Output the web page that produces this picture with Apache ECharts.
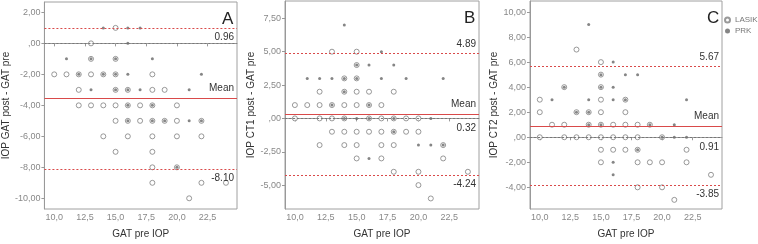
<!DOCTYPE html>
<html>
<head>
<meta charset="utf-8">
<script src="https://cdn.jsdelivr.net/npm/echarts@6/dist/echarts.min.js"></script>
<style>
  html, body { margin: 0; padding: 0; background: #fff; }
  #chart { width: 758px; height: 244px; }
</style>
</head>
<body>
<div id="chart"></div>
<script>
// x tick values shared by the three panels
const xTicks = [10, 12.5, 15, 17.5, 20, 22.5];

// panel A: IOP GAT post - GAT pre
const lasikA = [
  [15, 1], [13, 0], [13, -1], [15, -1],
  [10, -2], [11, -2], [12, -2], [13, -2], [14, -2], [15, -2], [18, -2],
  [12, -3], [15, -3], [16, -3], [18, -3], [19, -3],
  [12, -4], [13, -4], [14, -4], [15, -4], [16, -4], [17, -4], [18, -4], [20, -4],
  [15, -5], [16, -5], [17, -5], [18, -5], [19, -5], [20, -5], [22, -5],
  [14, -6], [16, -6], [18, -6], [20, -6], [22, -6],
  [15, -7], [18, -7], [18, -8], [20, -8],
  [18, -9], [22, -9], [24, -9], [21, -10]
];
const prkA = [
  [14, 1], [16, 1], [17, 1], [16, 0],
  [11, -1], [13, -1], [15, -1], [18, -1],
  [12, -2], [14, -2], [15, -2], [16, -2], [22, -2],
  [13, -3], [15, -3], [16, -3], [17, -3], [21, -3],
  [16, -4], [18, -4],
  [16, -5], [18, -5], [19, -5], [21, -5], [22, -5],
  [20, -8]
];
const statsA = { upper: 0.96, mean: -3.56, lower: -8.10 };
const yTicksA = [-10, -8, -6, -4, -2, 0, 2];

// panel B: IOP CT1 post - GAT pre
const lasikB = [
  [13, 5], [15, 5], [15, 4], [14, 3], [15, 3],
  [12, 2], [14, 2], [15, 2], [16, 2], [18, 2],
  [10, 1], [11, 1], [12, 1], [13, 1], [14, 1], [15, 1], [16, 1], [17, 1],
  [10, 0], [12, 0], [13, 0], [14, 0], [16, 0], [17, 0], [18, 0], [19, 0], [20, 0],
  [13, -1], [14, -1], [15, -1], [16, -1], [17, -1], [18, -1], [19, -1], [20, -1],
  [12, -2], [14, -2], [15, -2], [17, -2], [18, -2], [22, -2],
  [15, -3], [17, -3], [22, -3],
  [18, -4], [20, -4], [24, -4], [20, -5], [21, -6]
];
const prkB = [
  [14, 7], [17, 5], [15, 4], [16, 4], [18, 4],
  [11, 3], [12, 3], [13, 3], [14, 3], [15, 3], [17, 3], [19, 3], [22, 3],
  [14, 2], [13, 1], [16, 1],
  [14, 0], [15, 0], [16, 0], [18, 0], [21, 0],
  [18, -1], [20, -2], [21, -2], [22, -2], [16, -3]
];
const statsB = { upper: 4.89, mean: 0.32, lower: -4.24 };
const yTicksB = [-5, -2.5, 0, 2.5, 5, 7.5];

// panel C: IOP CT2 post - GAT pre
const lasikC = [
  [13, 7], [15, 6], [15, 5], [12, 4], [15, 4],
  [10, 3], [15, 3], [17, 3],
  [10, 2], [13, 2], [14, 2], [15, 2], [17, 2],
  [11, 1], [12, 1], [14, 1], [15, 1], [16, 1], [17, 1], [18, 1], [19, 1],
  [10, 0], [12, 0], [13, 0], [14, 0], [15, 0], [16, 0], [17, 0], [18, 0], [20, 0],
  [15, -1], [16, -1], [17, -1], [18, -1], [22, -1],
  [15, -2], [18, -2], [19, -2], [20, -2], [22, -2],
  [24, -3], [18, -4], [20, -4], [21, -5]
];
const prkC = [
  [14, 9], [16, 6], [15, 5], [17, 5], [18, 5],
  [12, 4], [15, 4], [16, 4],
  [11, 3], [14, 3], [16, 3], [17, 3], [22, 3],
  [13, 2], [14, 2],
  [14, 1], [15, 1], [19, 1], [21, 1],
  [20, 0], [21, 0], [22, 0],
  [18, -1], [16, -2], [16, -3]
];
const statsC = { upper: 5.67, mean: 0.91, lower: -3.85 };
const yTicksC = [-4, -2, 0, 2, 4, 6, 8, 10];

const panels = [
  { letter: 'A', name: 'IOP GAT post - GAT pre', lasik: lasikA, prk: prkA, stats: statsA,
    yTicks: yTicksA, yMin: -10.69, yMax: 2.67, left: 35, width: 202, top: 2, height: 213, nameGap: 18,
    valueLabel: 'mean' },
  { letter: 'B', name: 'IOP CT1 post - GAT pre', lasik: lasikB, prk: prkB, stats: statsB,
    yTicks: yTicksB, yMin: -6.79, yMax: 8.8, left: 285, width: 194, top: 1, height: 215, nameGap: 25,
    valueLabel: 'zero' },
  { letter: 'C', name: 'IOP CT2 post - GAT pre', lasik: lasikC, prk: prkC, stats: statsC,
    yTicks: yTicksC, yMin: -5.73, yMax: 10.88, left: 530, width: 192, top: 1, height: 214, nameGap: 22,
    valueLabel: 'zero' }
];

// SPSS style decimal comma, leading zero dropped
function commaFmt(digits) {
  return (v) => {
    let s = Math.abs(v).toFixed(digits).replace('.', ',');
    if (s.startsWith('0,')) s = s.slice(1);
    return (v < 0 ? '-' : '') + s;
  };
}

const RED = '#d94a4a';
const lineLabel = { color: '#333', fontSize: 10, fontFamily: 'Liberation Sans' };

const grid = [], xAxis = [], yAxis = [], series = [], title = [];

panels.forEach((p, i) => {
  grid.push({
    left: p.left, top: p.top, width: p.width, height: p.height,
    show: true, borderColor: '#a0a0a0', borderWidth: 1
  });
  xAxis.push({
    gridIndex: i, type: 'value', min: 9.2, max: 24.9,
    name: 'GAT pre IOP', nameLocation: 'middle', nameGap: 20,
    nameTextStyle: { color: '#333', fontSize: 10, fontFamily: 'Liberation Sans' },
    axisLine: { show: true, lineStyle: { color: '#999' } },
    axisTick: { show: true, length: 3, lineStyle: { color: '#999' }, customValues: xTicks },
    axisLabel: { color: '#888', fontSize: 9, margin: 4, fontFamily: 'Liberation Sans',
      customValues: xTicks, formatter: commaFmt(1) },
    splitLine: { show: false }
  });
  yAxis.push({
    gridIndex: i, type: 'value', min: p.yMin, max: p.yMax,
    name: p.name, nameLocation: 'middle', nameGap: p.nameGap, nameRotate: 90,
    nameTextStyle: { color: '#333', fontSize: 10, fontFamily: 'Liberation Sans' },
    axisLine: { show: true, lineStyle: { color: '#999' } },
    axisTick: { show: true, length: 3, lineStyle: { color: '#999' }, customValues: p.yTicks },
    axisLabel: { color: '#888', fontSize: 9, margin: 4, fontFamily: 'Liberation Sans',
      customValues: p.yTicks, formatter: commaFmt(2) },
    splitLine: { show: false }
  });

  const s = p.stats;
  // limits of agreement: red dotted
  const limits = [
    { yAxis: s.upper,
      label: { formatter: s.upper.toFixed(2), position: i === 0 ? 'insideEndBottom' : 'insideEndTop' } },
    { yAxis: s.lower, label: { formatter: s.lower.toFixed(2), position: 'insideEndBottom' } }
  ];
  // zero line grey dotted, mean solid red
  const centre = [
    { yAxis: 0,
      label: p.valueLabel === 'zero'
        ? { formatter: s.mean.toFixed(2), position: 'insideEndBottom', distance: [3, 5] }
        : { show: false } },
    { yAxis: s.mean, lineStyle: { type: 'solid', color: RED },
      label: { formatter: 'Mean', position: 'insideEndTop', distance: [3, 5] } }
  ];
  if (p.valueLabel === 'mean') {
    centre.push({ yAxis: s.mean, lineStyle: { opacity: 0 },
      label: { formatter: s.mean.toFixed(2), position: 'insideEndBottom', distance: [3, 7] } });
  }

  series.push({
    name: 'LASIK', type: 'scatter', xAxisIndex: i, yAxisIndex: i,
    symbol: 'circle', symbolSize: 5,
    itemStyle: { color: '#fff', borderColor: '#808080', borderWidth: 1 },
    data: p.lasik, z: 2,
    markLine: {
      silent: true, symbol: 'none', animation: false,
      lineStyle: { type: [2, 2], color: RED, width: 1 },
      label: { ...lineLabel, distance: [3, 4] },
      data: limits
    }
  });
  series.push({
    name: 'PRK', type: 'scatter', xAxisIndex: i, yAxisIndex: i,
    symbol: 'circle', symbolSize: 3,
    itemStyle: { color: '#666' },
    data: p.prk, z: 3,
    markLine: {
      silent: true, symbol: 'none', animation: false,
      lineStyle: { type: [2, 2], color: '#777', width: 1 },
      label: { ...lineLabel },
      data: centre
    }
  });

  title.push({
    text: p.letter, left: p.left + p.width - 20, top: p.top + 4,
    textStyle: { fontSize: 17, fontWeight: 'normal', color: '#222', fontFamily: 'Liberation Sans' }
  });
});

const chart = echarts.init(document.getElementById('chart'), null, { renderer: 'canvas' });
chart.setOption({
  animation: false,
  backgroundColor: '#fff',
  title,
  legend: {
    data: ['LASIK', 'PRK'],
    orient: 'vertical', left: 724, top: 16, padding: 0,
    itemWidth: 5, itemHeight: 5, itemGap: 3,
    textStyle: { color: '#777', fontSize: 8, fontFamily: 'Liberation Sans' }
  },
  grid, xAxis, yAxis, series
});
</script>
</body>
</html>
